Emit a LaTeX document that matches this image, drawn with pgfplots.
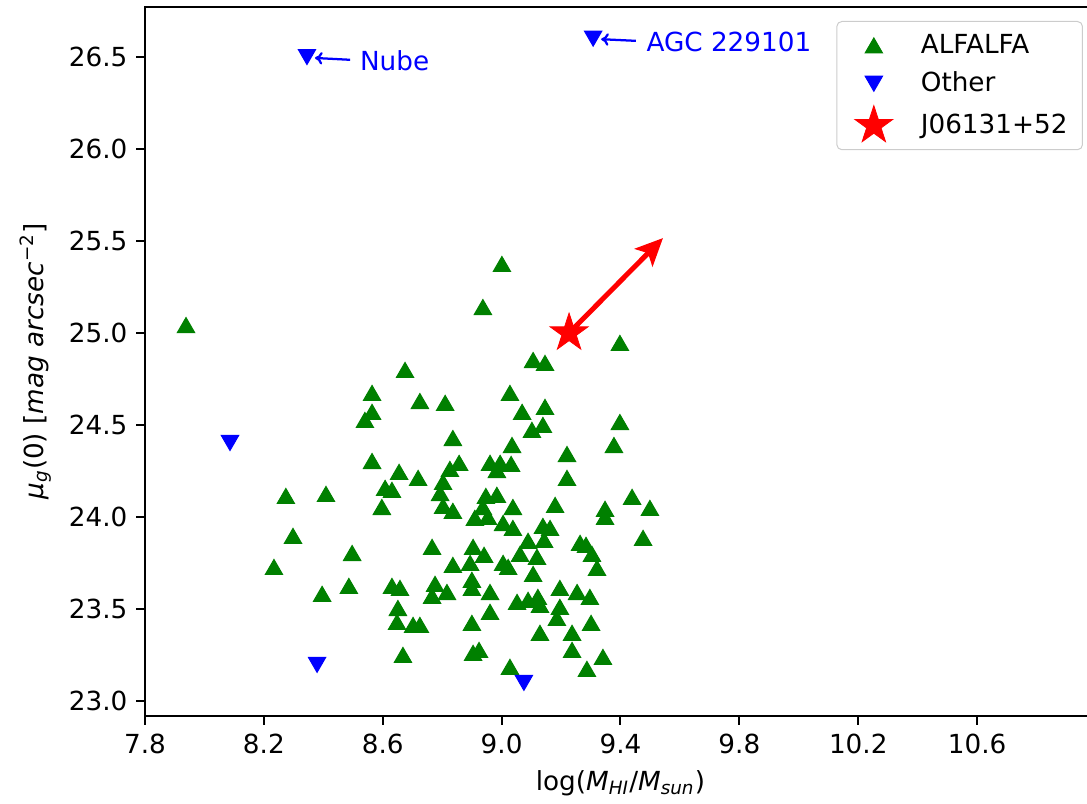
\documentclass[border=0pt]{standalone}
\usepackage{fontspec}
\setmainfont{DejaVu Sans}
\usepackage{pgfplots}
\pgfplotsset{compat=1.18}
\usetikzlibrary{arrows.meta}
\definecolor{mgreen}{HTML}{008000}
\definecolor{mblue}{HTML}{0000FF}
\definecolor{mred}{HTML}{FF0000}
\pgfdeclareplotmark{fstar}{%
  \pgfpathmoveto{\pgfpointpolar{90}{\pgfplotmarksize}}%
  \pgfpathlineto{\pgfpointpolar{126}{0.382*\pgfplotmarksize}}%
  \pgfpathlineto{\pgfpointpolar{162}{\pgfplotmarksize}}%
  \pgfpathlineto{\pgfpointpolar{198}{0.382*\pgfplotmarksize}}%
  \pgfpathlineto{\pgfpointpolar{234}{\pgfplotmarksize}}%
  \pgfpathlineto{\pgfpointpolar{270}{0.382*\pgfplotmarksize}}%
  \pgfpathlineto{\pgfpointpolar{306}{\pgfplotmarksize}}%
  \pgfpathlineto{\pgfpointpolar{342}{0.382*\pgfplotmarksize}}%
  \pgfpathlineto{\pgfpointpolar{18}{\pgfplotmarksize}}%
  \pgfpathlineto{\pgfpointpolar{54}{0.382*\pgfplotmarksize}}%
  \pgfpathclose\pgfusepathqfillstroke}
\newcommand{\fs}{\fontsize{10.5}{12.6}\selectfont}
\begin{document}
\begin{tikzpicture}
\begin{axis}[
  scale only axis,
  width=380.4pt, height=283.6pt,
  xmin=7.8, xmax=11.0, ymin=22.918, ymax=26.772,
  axis line style={line width=0.8pt},
  tick style={line width=0.8pt, black},
  major tick length=3.5pt,
  tick align=outside,
  xtick pos=bottom, ytick pos=left,
  xtick={7.8,8.2,8.6,9.0,9.4,9.8,10.2,10.6},
  ytick={23.0,23.5,24.0,24.5,25.0,25.5,26.0,26.5},
  /pgf/number format/assume math mode=true,
  xticklabel style={/pgf/number format/.cd, fixed, fixed zerofill, precision=1},
  yticklabel style={/pgf/number format/.cd, fixed, fixed zerofill, precision=1},
  ticklabel style={font=\fs},
  xlabel={log({\itshape M}\textsubscript{\itshape HI}/{\itshape M}\textsubscript{\itshape sun})},
  ylabel={{\itshape μ}\textsubscript{\itshape g}(0) [{\itshape mag arcsec}\textsuperscript{−2}]},
  label style={font=\fs},
  legend style={at={(rel axis cs:1,1)}, anchor=north east, xshift=-5.2pt, yshift=-5.6pt,
    draw=black!20, rounded corners=2pt, fill=white, font=\fs,
    row sep=2pt, inner xsep=4pt, inner ysep=3pt},
  legend image code/.code={%
    \path (-10.6pt,0pt) (16.6pt,0pt);
    \draw[#1] plot coordinates {(0pt,0pt)};},
  legend cell align=left,
  clip=false,
]
\addplot[only marks, mark=triangle*, mark size=4pt, color=mgreen,
  mark options={fill=mgreen, draw=mgreen, line width=0.4pt, yshift=-1pt}] coordinates {
(7.938,25.043) (9.001,25.375) (8.937,25.141) (9.106,24.853) (9.146,24.837)
(9.398,24.946) (8.675,24.799) (8.564,24.674) (8.725,24.630) (8.810,24.620)
(8.564,24.571) (8.540,24.527) (9.028,24.674) (9.069,24.571) (9.146,24.598)
(9.102,24.473) (9.139,24.500) (9.398,24.516) (8.836,24.429) (9.035,24.391)
(9.220,24.342) (9.378,24.391) (9.220,24.212) (8.564,24.304) (8.655,24.245)
(8.719,24.212) (8.608,24.158) (8.631,24.147) (8.597,24.054) (8.803,24.190)
(8.826,24.261) (8.857,24.294) (8.793,24.130) (8.803,24.060) (8.836,24.033)
(8.961,24.294) (8.995,24.294) (9.032,24.288) (8.984,24.255) (8.947,24.114)
(8.984,24.120) (8.937,24.054) (8.910,23.995) (8.954,24.000) (9.038,24.054)
(9.005,23.967) (9.038,23.940) (9.180,24.065) (9.139,23.951) (9.163,23.940)
(9.143,23.875) (9.089,23.870) (9.062,23.799) (9.348,24.044) (9.348,24.000)
(9.439,24.109) (9.499,24.049) (9.476,23.886) (9.264,23.859) (9.284,23.848)
(9.304,23.799) (8.274,24.114) (8.409,24.125) (8.298,23.897) (8.234,23.728)
(8.396,23.582) (8.497,23.804) (8.486,23.625) (8.766,23.837) (8.904,23.837)
(8.941,23.794) (8.836,23.739) (8.894,23.750) (9.005,23.750) (9.022,23.728)
(9.119,23.783) (9.106,23.690) (9.321,23.723) (8.631,23.625) (8.658,23.614)
(8.776,23.636) (8.816,23.592) (8.766,23.571) (8.900,23.658) (8.900,23.614)
(8.961,23.592) (8.961,23.484) (8.651,23.505) (8.648,23.429) (8.702,23.413)
(8.725,23.413) (8.668,23.250) (8.900,23.424) (8.904,23.261) (8.924,23.277)
(9.028,23.185) (9.052,23.538) (9.089,23.549) (9.122,23.565) (9.129,23.522)
(9.196,23.614) (9.196,23.511) (9.186,23.451) (9.254,23.592) (9.297,23.565)
(9.301,23.424) (9.129,23.370) (9.237,23.370) (9.237,23.277) (9.341,23.239)
(9.287,23.174)
};
\addlegendentry{ALFALFA}
\addplot[only marks, mark=triangle*, mark size=4pt, color=mblue,
  mark options={fill=mblue, draw=mblue, line width=0.4pt, rotate=180, yshift=-1pt}] coordinates {
(8.345,26.500) (9.308,26.600) (8.086,24.402) (8.379,23.196) (9.075,23.098)
};
\addlegendentry{Other}
\addplot[only marks, mark=fstar, mark size=8pt, color=mred,
  mark options={fill=mred, draw=mred, line width=0.3pt}] coordinates {(9.227,25.000)};
\addlegendentry{J06131+52}
\draw[mred, line width=2pt, -{Stealth[length=11pt,width=10pt,inset=2.5pt]}]
  (axis cs:9.227,25.000) -- (axis cs:9.543,25.516);
\draw[mblue, line width=0.9pt, -{To[length=3pt,width=5pt]}]
  (axis cs:8.490,26.485) -- (axis cs:8.372,26.495);
\node[anchor=base west, inner sep=0pt, text=mblue, font=\fs]
  at (axis cs:8.522,26.425) {Nube};
\draw[mblue, line width=0.9pt, -{To[length=3pt,width=5pt]}]
  (axis cs:9.452,26.588) -- (axis cs:9.335,26.597);
\node[anchor=base west, inner sep=0pt, text=mblue, font=\fs]
  at (axis cs:9.486,26.531) {AGC 229101};
\coordinate (ll) at (rel axis cs:0,0);
\end{axis}
\pgfresetboundingbox
\path (ll) ++(-58pt,-35.2pt) rectangle ++(434.8pt,321.6pt);
\end{tikzpicture}
\end{document}
